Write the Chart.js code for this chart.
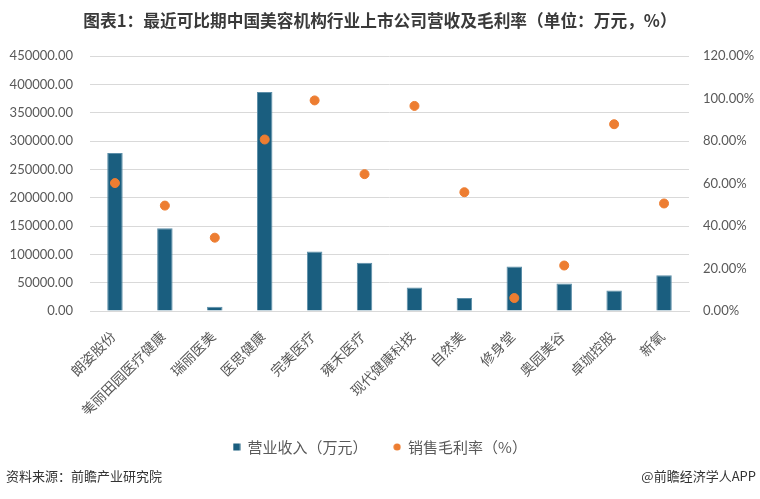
<!DOCTYPE html>
<html>
<head>
<meta charset="utf-8">
<script src="https://cdn.jsdelivr.net/npm/chart.js@4/dist/chart.umd.min.js"></script>
<style>
  html, body { margin: 0; padding: 0; background: #fff; }
  #wrap { position: relative; width: 760px; height: 499px; overflow: hidden; }
  #c { display: block; }
  #title { position: absolute; left: 0; top: 8px; width: 760px; text-align: center;
    font-family: "Noto Sans CJK SC"; font-weight: bold; font-size: 16.7px; color: #3a3a3a; line-height: 24px; }
  .foot { position: absolute; top: 467px; font-family: "Noto Sans CJK SC"; font-size: 13px; color: #333; line-height: 18px; }
  #src { left: 6px; }
  #app { right: 4px; }
</style>
</head>
<body>
<div id="wrap">
  <canvas id="c" width="760" height="499"></canvas>
  <div id="title">图表1：最近可比期中国美容机构行业上市公司营收及毛利率（单位：万元，%）</div>
  <div class="foot" id="src">资料来源：前瞻产业研究院</div>
  <div class="foot" id="app">@前瞻经济学人APP</div>
</div>
<script>
const categories = ["朗姿股份", "美丽田园医疗健康", "瑞丽医美", "医思健康", "完美医疗", "雍禾医疗", "现代健康科技", "自然美", "修身堂", "奥园美谷", "卓珈控股", "新氧"];
const revenue = [279000, 146000, 7600, 386500, 105000, 85000, 41300, 23000, 78500, 48400, 36000, 63100];
const grossMargin = [60.2, 49.6, 34.5, 80.7, 99.1, 64.4, 96.5, 55.9, 6.1, 21.4, 87.9, 50.6];
const leftTicks = { min: 0, max: 450000, step: 50000 };
const rightTicks = { min: 0, max: 120, step: 20 };

const barColor = "#1a5e7f";
const dotColor = "#ed7d31";
const tickFont = { family: "Lato", size: 13 };
const tickColor = "#595959";

function markerImage(kind, color) {
  const cv = document.createElement("canvas");
  cv.width = 8; cv.height = 8;
  const g = cv.getContext("2d");
  g.fillStyle = color;
  if (kind === "rect") { g.fillRect(0.5, 0.5, 7, 7); }
  else { g.beginPath(); g.arc(4, 4, 3.6, 0, Math.PI * 2); g.fill(); }
  return cv;
}
const rectMarker = markerImage("rect", barColor);
const dotMarker = markerImage("circle", dotColor);

new Chart(document.getElementById("c"), {
  type: "bar",
  data: {
    labels: categories,
    datasets: [
      {
        type: "bar",
        label: "营业收入（万元）",
        data: revenue,
        yAxisID: "y",
        backgroundColor: barColor,
        borderColor: "#5d8fa9",
        borderWidth: 1,
        barPercentage: 0.31,
        categoryPercentage: 1,
        order: 1
      },
      {
        type: "line",
        label: "销售毛利率（%）",
        data: grossMargin,
        yAxisID: "y1",
        showLine: false,
        pointRadius: 4.5,
        pointHoverRadius: 4.5,
        pointBackgroundColor: dotColor,
        pointBorderColor: dotColor,
        backgroundColor: dotColor,
        borderColor: dotColor,
        pointStyle: "circle",
        order: 0
      }
    ]
  },
  options: {
    responsive: false,
    animation: false,
    layout: { padding: { top: 56, bottom: 34.5, left: 0, right: 0 } },
    plugins: {
      title: { display: false },
      tooltip: { enabled: false },
      legend: {
        position: "bottom",
        labels: {
          usePointStyle: true,
          boxWidth: 7,
          boxHeight: 7,
          padding: 26,
          color: "#595959",
          font: { family: "Noto Sans CJK SC", size: 15 },
          generateLabels: (chart) => chart.data.datasets.map((ds, i) => ({
            text: ds.label,
            datasetIndex: i,
            pointStyle: i === 0 ? rectMarker : dotMarker,
            fillStyle: i === 0 ? barColor : dotColor,
            strokeStyle: "rgba(0,0,0,0)",
            lineWidth: 0,
            fontColor: "#595959",
            hidden: false
          }))
        }
      }
    },
    scales: {
      x: {
        grid: { display: false, drawTicks: false },
        border: { display: true, color: "#d9d9d9" },
        ticks: {
          color: tickColor,
          font: { family: "Noto Sans CJK SC", size: 14 },
          minRotation: 45,
          maxRotation: 45,
          autoSkip: false,
          padding: 17,
          labelOffset: -2
        },
        afterFit: (s) => { s.height = 102.5; }
      },
      y: {
        position: "left",
        min: leftTicks.min,
        max: leftTicks.max,
        grid: { color: "#d9d9d9", drawTicks: false },
        border: { display: false },
        ticks: {
          stepSize: leftTicks.step,
          color: tickColor,
          font: tickFont,
          padding: 17,
          callback: (v) => Number(v).toFixed(2)
        },
        afterFit: (s) => { s.width = 90; }
      },
      y1: {
        position: "right",
        min: rightTicks.min,
        max: rightTicks.max,
        grid: { display: false, drawTicks: false },
        border: { display: false },
        ticks: {
          stepSize: rightTicks.step,
          color: tickColor,
          font: tickFont,
          padding: 14,
          callback: (v) => Number(v).toFixed(2) + "%"
        },
        afterFit: (s) => { s.width = 71; }
      }
    }
  }
});
</script>
</body>
</html>
